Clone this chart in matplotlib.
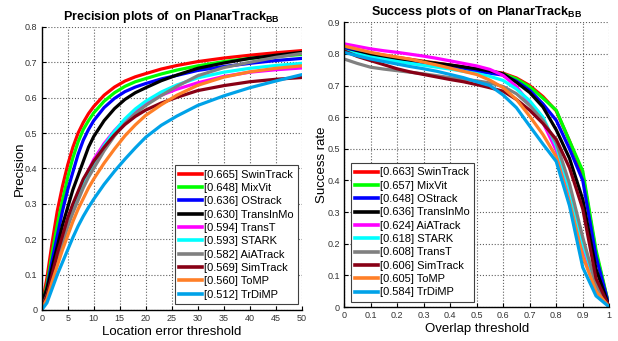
import numpy as np
import matplotlib
matplotlib.use("Agg")
import matplotlib.pyplot as plt

plt.rcParams['font.family'] = 'Liberation Sans'
plt.rcParams['mathtext.fontset'] = 'custom'
plt.rcParams['mathtext.bf'] = 'Liberation Sans:bold'
plt.rcParams['mathtext.rm'] = 'Liberation Sans'

# colours used by the tracking toolkit
colors = ['#ff0000', '#00ff00', '#0000ff', '#000000', '#ff00ff',
          '#00ffff', '#808080', '#880015', '#ff7f27', '#00a2e8']

# ---- precision plot data ----
prec_names = ['SwinTrack', 'MixVit', 'OStrack', 'TransInMo', 'TransT',
              'STARK', 'AiATrack', 'SimTrack', 'ToMP', 'TrDiMP']
prec_scores = [0.665, 0.648, 0.636, 0.630, 0.594, 0.593, 0.582, 0.569, 0.560, 0.512]
prec_x = [0, 1, 2, 3, 4, 5, 6, 7, 8, 9, 10, 12, 14, 16, 18, 20, 23, 26, 30, 35, 40, 45, 50]
prec_swintrack = [0.01, 0.09, 0.19, 0.28, 0.35, 0.41, 0.46, 0.50, 0.53, 0.555, 0.575, 0.607, 0.630, 0.647, 0.659, 0.668, 0.681, 0.691, 0.702, 0.712, 0.720, 0.727, 0.733]
prec_mixvit = [0.01, 0.07, 0.16, 0.24, 0.31, 0.375, 0.43, 0.475, 0.51, 0.535, 0.557, 0.590, 0.614, 0.632, 0.645, 0.654, 0.667, 0.678, 0.690, 0.702, 0.711, 0.717, 0.722]
prec_ostrack = [0.01, 0.06, 0.14, 0.21, 0.28, 0.34, 0.39, 0.44, 0.48, 0.51, 0.535, 0.572, 0.598, 0.617, 0.630, 0.640, 0.653, 0.663, 0.677, 0.688, 0.697, 0.705, 0.711]
prec_transinmo = [0.02, 0.06, 0.12, 0.18, 0.24, 0.29, 0.34, 0.38, 0.42, 0.46, 0.49, 0.535, 0.569, 0.595, 0.614, 0.628, 0.648, 0.664, 0.683, 0.698, 0.711, 0.720, 0.728]
prec_transt = [0.005, 0.03, 0.09, 0.15, 0.20, 0.25, 0.29, 0.33, 0.365, 0.395, 0.425, 0.47, 0.507, 0.537, 0.562, 0.585, 0.607, 0.624, 0.642, 0.660, 0.672, 0.679, 0.684]
prec_stark = [0.005, 0.03, 0.085, 0.14, 0.19, 0.24, 0.285, 0.325, 0.36, 0.39, 0.415, 0.465, 0.505, 0.540, 0.568, 0.590, 0.616, 0.636, 0.656, 0.672, 0.683, 0.691, 0.697]
prec_aiatrack = [0.01, 0.04, 0.09, 0.145, 0.19, 0.235, 0.275, 0.31, 0.345, 0.375, 0.40, 0.45, 0.492, 0.527, 0.555, 0.578, 0.606, 0.632, 0.662, 0.685, 0.700, 0.714, 0.725]
prec_simtrack = [0.005, 0.04, 0.10, 0.16, 0.21, 0.26, 0.30, 0.335, 0.37, 0.395, 0.42, 0.46, 0.495, 0.524, 0.547, 0.565, 0.585, 0.601, 0.620, 0.634, 0.645, 0.652, 0.657]
prec_tomp = [0.005, 0.03, 0.08, 0.125, 0.17, 0.21, 0.25, 0.285, 0.315, 0.345, 0.37, 0.415, 0.455, 0.492, 0.523, 0.550, 0.580, 0.607, 0.635, 0.658, 0.673, 0.683, 0.690]
prec_trdimp = [0.0, 0.02, 0.06, 0.10, 0.135, 0.17, 0.205, 0.237, 0.265, 0.29, 0.313, 0.355, 0.392, 0.426, 0.458, 0.488, 0.522, 0.548, 0.578, 0.605, 0.628, 0.647, 0.665]
prec_curves = [prec_swintrack, prec_mixvit, prec_ostrack, prec_transinmo, prec_transt,
               prec_stark, prec_aiatrack, prec_simtrack, prec_tomp, prec_trdimp]
prec_colors = colors

# ---- success plot data ----
succ_names = ['SwinTrack', 'MixVit', 'OStrack', 'TransInMo', 'AiATrack',
              'STARK', 'TransT', 'SimTrack', 'ToMP', 'TrDiMP']
succ_scores = [0.663, 0.657, 0.648, 0.636, 0.624, 0.618, 0.608, 0.606, 0.605, 0.584]
succ_x = [0.0, 0.05, 0.1, 0.15, 0.2, 0.25, 0.3, 0.35, 0.4, 0.45, 0.5,
          0.55, 0.6, 0.65, 0.7, 0.75, 0.8, 0.85, 0.9, 0.95, 1.0]
succ_swintrack = [0.820, 0.812, 0.803, 0.796, 0.789, 0.783, 0.777, 0.771, 0.765, 0.759, 0.752, 0.746, 0.739, 0.724, 0.700, 0.665, 0.620, 0.525, 0.420, 0.170, 0.0]
succ_mixvit = [0.820, 0.811, 0.801, 0.794, 0.787, 0.781, 0.775, 0.769, 0.763, 0.757, 0.750, 0.744, 0.737, 0.721, 0.696, 0.660, 0.622, 0.525, 0.430, 0.180, 0.0]
succ_ostrack = [0.815, 0.805, 0.796, 0.789, 0.782, 0.776, 0.770, 0.764, 0.758, 0.752, 0.745, 0.739, 0.733, 0.714, 0.685, 0.642, 0.590, 0.500, 0.400, 0.160, 0.0]
succ_transinmo = [0.810, 0.803, 0.797, 0.791, 0.785, 0.780, 0.775, 0.770, 0.765, 0.759, 0.753, 0.746, 0.737, 0.710, 0.678, 0.632, 0.560, 0.470, 0.340, 0.120, 0.0]
succ_aiatrack = [0.832, 0.824, 0.816, 0.810, 0.805, 0.799, 0.793, 0.786, 0.778, 0.770, 0.762, 0.751, 0.732, 0.697, 0.643, 0.583, 0.495, 0.360, 0.190, 0.060, 0.0]
succ_stark = [0.810, 0.800, 0.790, 0.783, 0.776, 0.770, 0.764, 0.758, 0.752, 0.745, 0.738, 0.729, 0.716, 0.689, 0.652, 0.600, 0.510, 0.370, 0.200, 0.070, 0.0]
succ_transt = [0.784, 0.770, 0.758, 0.752, 0.747, 0.742, 0.737, 0.731, 0.725, 0.720, 0.715, 0.708, 0.697, 0.674, 0.637, 0.590, 0.520, 0.390, 0.220, 0.070, 0.0]
succ_simtrack = [0.810, 0.792, 0.779, 0.766, 0.753, 0.743, 0.735, 0.727, 0.719, 0.712, 0.703, 0.693, 0.682, 0.656, 0.622, 0.580, 0.530, 0.440, 0.310, 0.090, 0.0]
succ_tomp = [0.825, 0.815, 0.805, 0.797, 0.790, 0.783, 0.774, 0.765, 0.755, 0.745, 0.735, 0.717, 0.693, 0.656, 0.603, 0.545, 0.475, 0.330, 0.160, 0.050, 0.0]
succ_trdimp = [0.805, 0.794, 0.784, 0.776, 0.768, 0.760, 0.753, 0.745, 0.735, 0.725, 0.712, 0.700, 0.670, 0.630, 0.572, 0.515, 0.460, 0.320, 0.125, 0.035, 0.0]
succ_curves = [succ_swintrack, succ_mixvit, succ_ostrack, succ_transinmo, succ_aiatrack,
               succ_stark, succ_transt, succ_simtrack, succ_tomp, succ_trdimp]
# AiATrack is magenta, TransT gray in this panel
succ_colors = colors


def style_axes(ax):
    for s in ['top', 'right']:
        ax.spines[s].set_visible(False)
    for s in ['left', 'bottom']:
        ax.spines[s].set_linewidth(1.0)
    ax.grid(True, linestyle=':', color='#606060', linewidth=0.8)
    ax.set_axisbelow(True)
    ax.tick_params(direction='in', length=3, labelsize=6.5, labelcolor='#333333', pad=3)


def add_legend(ax, loc, anchor):
    leg = ax.legend(loc=loc, bbox_to_anchor=anchor, fontsize=8,
                    handlelength=2.1, handletextpad=0.15, labelspacing=0.3,
                    borderpad=0.4, borderaxespad=0, fancybox=False, framealpha=1)
    leg.get_frame().set_edgecolor('#404040')
    leg.get_frame().set_linewidth(0.8)
    for h in leg.get_lines():
        h.set_linewidth(2.6)
    return leg


fig = plt.figure(figsize=(6.18, 3.41), dpi=100)
fig.patch.set_facecolor('white')

# precision
ax1 = fig.add_axes([0.0675, 0.091, 0.4205, 0.830])
for name, sc, ys, c in zip(prec_names, prec_scores, prec_curves, prec_colors):
    ax1.plot(prec_x, ys, color=c, linewidth=2.3, label='[%.3f] %s' % (sc, name))
ax1.set_xlim(0, 50)
ax1.set_ylim(0, 0.8)
ax1.set_xticks(np.arange(0, 51, 5))
ax1.set_yticks(np.arange(0, 0.81, 0.1))
ax1.set_yticklabels(['0', '0.1', '0.2', '0.3', '0.4', '0.5', '0.6', '0.7', '0.8'])
style_axes(ax1)
ax1.set_xlabel('Location error threshold', fontsize=9.5, labelpad=2)
ax1.set_ylabel('Precision', fontsize=9.5, labelpad=-0.5)
ax1.set_title(r'Precision plots of  on PlanarTrack$_{\mathbf{BB}}$', fontsize=9, fontweight='bold', pad=5)
add_legend(ax1, 'lower right', (0.987, 0.021))

# success
ax2 = fig.add_axes([0.5566, 0.0997, 0.4293, 0.835])
for name, sc, ys, c in zip(succ_names, succ_scores, succ_curves, succ_colors):
    ax2.plot(succ_x, ys, color=c, linewidth=2.3, label='[%.3f] %s' % (sc, name))
ax2.set_xlim(0, 1)
ax2.set_ylim(0, 0.9)
ax2.set_xticks(np.arange(0, 1.01, 0.1))
ax2.set_xticklabels(['0', '0.1', '0.2', '0.3', '0.4', '0.5', '0.6', '0.7', '0.8', '0.9', '1'])
ax2.set_yticks(np.arange(0, 0.91, 0.1))
ax2.set_yticklabels(['0', '0.1', '0.2', '0.3', '0.4', '0.5', '0.6', '0.7', '0.8', '0.9'])
style_axes(ax2)
ax2.set_xlabel('Overlap threshold', fontsize=9.5, labelpad=2)
ax2.set_ylabel('Success rate', fontsize=9.5, labelpad=-0.5)
ax2.set_title(r'Success plots of  on PlanarTrack$_{\mathbf{BB}}$', fontsize=9, fontweight='bold', pad=5)
add_legend(ax2, 'lower left', (0.025, 0.018))

fig.savefig('out.png', dpi=100)
